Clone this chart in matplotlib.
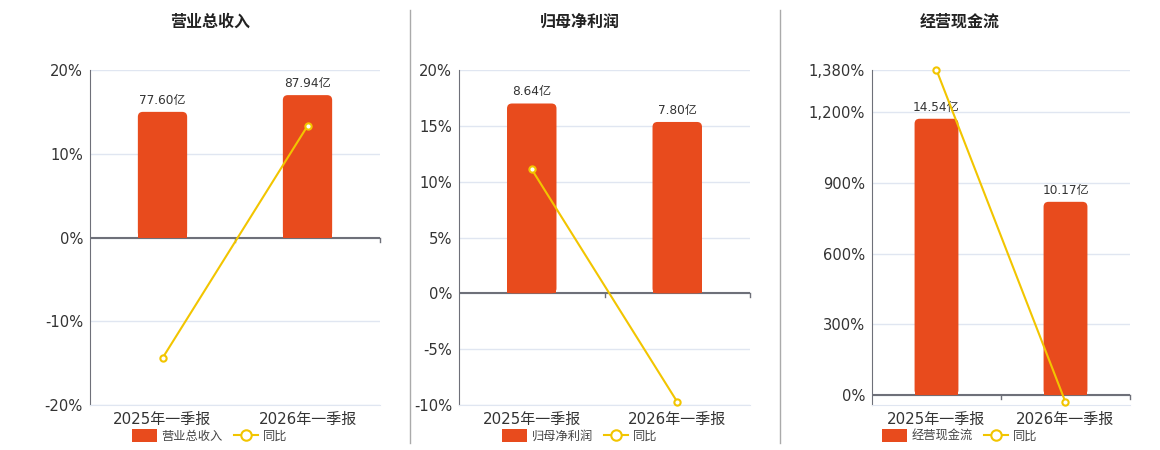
import matplotlib
matplotlib.use("Agg")
import matplotlib.pyplot as plt
from matplotlib.patches import FancyBboxPatch, Patch
from matplotlib.lines import Line2D
from matplotlib.ticker import FuncFormatter

plt.rcParams["font.family"] = ["DejaVu Sans", "Noto Sans CJK SC"]

categories = ["2025年一季报", "2026年一季报"]

titles = ["营业总收入", "归母净利润", "经营现金流"]
bar_values = [[77.60, 87.94], [8.64, 7.80], [14.54, 10.17]]
bar_labels = [["77.60亿", "87.94亿"], ["8.64亿", "7.80亿"], ["14.54亿", "10.17亿"]]
yoy_values = [[-14.4, 13.32], [11.1, -9.72], [1380, -30.05]]
y_limits = [(-20, 20), (-10, 20), (-42, 1380)]
y_ticks = [[-20, -10, 0, 10, 20], [-10, -5, 0, 5, 10, 15, 20], [0, 300, 600, 900, 1200, 1380]]

BAR_COLOR = "#E84B1D"
LINE_COLOR = "#F2C500"
GRID_COLOR = "#E0E6F1"
AXIS_COLOR = "#6E7079"
TEXT_COLOR = "#333333"

W, H = 1160, 450
fig = plt.figure(figsize=(W / 100, H / 100), dpi=100)

# axes boxes in pixels: left, right, top, bottom
boxes = [(90, 380, 70, 405), (459, 750, 70, 405), (872, 1130, 70, 405)]
title_x = [210, 580, 960]


def pct_fmt(v, _):
    return f"{v:,.0f}%"


for i in range(3):
    l, r, t, b = boxes[i]
    ax = fig.add_axes([l / W, 1 - b / H, (r - l) / W, (b - t) / H])
    ax.set_xlim(-0.5, 1.5)
    ymin, ymax = y_limits[i]
    ax.set_ylim(ymin, ymax)
    ax.set_yticks(y_ticks[i])
    ax.yaxis.set_major_formatter(FuncFormatter(pct_fmt))
    ax.set_xticks([0, 1])
    ax.set_xticklabels(categories)
    ax.tick_params(axis="x", length=0, pad=5, labelsize=10.8, colors=TEXT_COLOR)
    ax.tick_params(axis="y", length=0, pad=5, labelsize=10.6, colors=TEXT_COLOR)
    ax.grid(axis="y", color=GRID_COLOR, linewidth=1)
    ax.set_axisbelow(True)
    for s in ["top", "right"]:
        ax.spines[s].set_visible(False)
    ax.spines["bottom"].set_color(GRID_COLOR)
    ax.spines["left"].set_color(AXIS_COLOR)
    ax.axhline(0, color=AXIS_COLOR, linewidth=1.5, zorder=3)
    # category boundary ticks on the zero line
    tick_len = 4 * (ymax - ymin) / (b - t)
    for xb in [0.5, 1.5]:
        ax.plot([xb, xb], [0, -tick_len], color=AXIS_COLOR, linewidth=1,
                clip_on=False, zorder=3)

    # bars on a hidden axis with zero aligned
    bx = ax.twinx()
    btop = max(bar_values[i]) / 0.85
    bx.set_ylim(btop * ymin / ymax, btop)
    bx.axis("off")
    bars = bx.bar([0, 1], bar_values[i], width=0.34, color=BAR_COLOR, zorder=2)
    xu = 2.0 / (r - l)
    yu = (btop - btop * ymin / ymax) / (b - t)
    for rect, lab in zip(bars, bar_labels[i]):
        x0, w, h = rect.get_x(), rect.get_width(), rect.get_height()
        rect.set_height(h * 0.5)
        bx.add_patch(FancyBboxPatch((x0, 0), w, h,
                                    boxstyle=f"round,pad=0,rounding_size={5 * xu}",
                                    mutation_aspect=yu / xu,
                                    facecolor=BAR_COLOR, edgecolor="none", zorder=2))
        bx.annotate(lab, (x0 + w / 2, h), xytext=(0, 5), textcoords="offset pixels",
                    ha="center", va="bottom", fontsize=8.7, color=TEXT_COLOR)

    # yoy line on top
    lx = bx.twinx()
    lx.set_ylim(ymin, ymax)
    lx.axis("off")
    lx.plot([0, 1], yoy_values[i], color=LINE_COLOR, linewidth=1.5, marker="o",
            markersize=4.5, markerfacecolor="white", markeredgecolor=LINE_COLOR,
            markeredgewidth=1.5, clip_on=False, zorder=4)

    fig.text(title_x[i] / W, 1 - 22 / H, titles[i], ha="center", va="center",
             fontsize=11.5, fontweight="bold", color="#222222")

    handles = [Patch(facecolor=BAR_COLOR, edgecolor="none"),
               Line2D([0], [0], color=LINE_COLOR, linewidth=1.5, marker="o",
                      markersize=7.5, markerfacecolor="white",
                      markeredgecolor=LINE_COLOR, markeredgewidth=1.5)]
    fig.legend(handles, [titles[i], "同比"], loc="center",
               bbox_to_anchor=(title_x[i] / W, 1 - 436 / H), ncol=2, frameon=False,
               fontsize=8.8, handlelength=2.0, handleheight=1.2, handletextpad=0.4,
               columnspacing=0.9, labelcolor="#444444")

for xs in [410, 780]:
    fig.add_artist(Line2D([xs / W, xs / W], [1 - 443 / H, 1 - 10 / H],
                          color="#AAAAAA", linewidth=1))

fig.savefig("out.png", dpi=100)
